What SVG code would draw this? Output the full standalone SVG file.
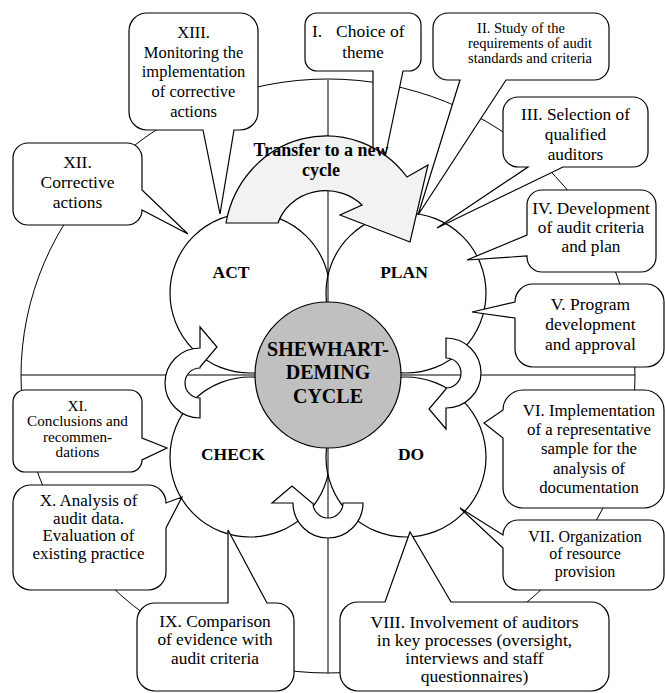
<svg xmlns="http://www.w3.org/2000/svg" width="665" height="693" viewBox="0 0 665 693">
<style>
.ln{fill:none;stroke:#000;stroke-width:1}
.bx{fill:#fff;stroke:#000;stroke-width:1.2}
.lobe{fill:#fff;stroke:#000;stroke-width:1.2}
.t{font-family:"Liberation Serif","Times New Roman",serif;text-anchor:middle;fill:#000}
.s{font-family:"Liberation Serif","Times New Roman",serif;text-anchor:start;fill:#000}
.b{font-weight:bold}
</style>
<rect width="665" height="693" fill="#fff"/>
<ellipse class="ln" cx="328" cy="376" rx="307" ry="297"/>
<g id="lobes">
<circle class="lobe" cx="250" cy="293" r="80"/>
<circle class="lobe" cx="406" cy="293" r="80"/>
<circle class="lobe" cx="250" cy="457" r="80"/>
<circle class="lobe" cx="406" cy="457" r="80"/>
</g>
<g id="connectors">
<line class="ln" x1="21" y1="375" x2="635" y2="375"/>
<line class="ln" x1="328" y1="80" x2="328" y2="673"/>
</g>
<g id="n1"><path class="bx" d="M317,13 H409 A12,12 0 0 1 421,25 V59 A12,12 0 0 1 409,71 H403 L373,215 L373,71 H317 A12,12 0 0 1 305,59 V25 A12,12 0 0 1 317,13 Z"/>
<text class="s" font-size="17.5"><tspan x="312" y="37">I.</tspan><tspan x="336" y="37">Choice of</tspan></text>
<text class="t" font-size="17"><tspan x="363" y="58">theme</tspan></text></g>
<g id="n2"><path class="bx" d="M448,13 H594 A15,15 0 0 1 609,28 V65 A15,15 0 0 1 594,80 H506 L418,215 L460,80 H448 A15,15 0 0 1 433,65 V28 A15,15 0 0 1 448,13 Z"/>
<text class="t" font-size="14.5"><tspan x="521" y="33">II. Study of the</tspan><tspan x="530" y="48">requirements of audit</tspan><tspan x="530" y="63">standards and criteria</tspan></text></g>
<g id="n3"><path class="bx" d="M518,97 H633 A15,15 0 0 1 648,112 V152 A15,15 0 0 1 633,167 H563 L437,228 L528,167 H518 A15,15 0 0 1 503,152 V112 A15,15 0 0 1 518,97 Z"/>
<text class="t" font-size="17.3"><tspan x="575.5" y="120">III. Selection of</tspan><tspan x="575.5" y="140">qualified</tspan><tspan x="575.5" y="160">auditors</tspan></text></g>
<g id="n4"><path class="bx" d="M542,190 H641 A15,15 0 0 1 656,205 V257 A15,15 0 0 1 641,272 H542 A15,15 0 0 1 527,257 V256 L467,260 L527,235 V205 A15,15 0 0 1 542,190 Z"/>
<text class="t" font-size="17.3"><tspan x="591" y="214">IV. Development</tspan><tspan x="591" y="233">of audit criteria</tspan><tspan x="591" y="252">and plan</tspan></text></g>
<g id="n5"><path class="bx" d="M533,284 H646 A18,18 0 0 1 664,302 V349 A18,18 0 0 1 646,367 H533 A18,18 0 0 1 515,349 V318 L472,312 L515,302 A18,18 0 0 1 533,284 Z"/>
<text class="t" font-size="17.5"><tspan x="590.5" y="310">V. Program</tspan><tspan x="590.5" y="330">development</tspan><tspan x="590.5" y="350">and approval</tspan></text></g>
<g id="n6"><path class="bx" d="M523,390 H644 A20,20 0 0 1 664,410 V488 A20,20 0 0 1 644,508 H523 A20,20 0 0 1 503,488 V438 L484,423 L503,410 A20,20 0 0 1 523,390 Z"/>
<text class="t" font-size="16.8"><tspan x="589" y="416">VI. Implementation</tspan><tspan x="589" y="435">of a representative</tspan><tspan x="589" y="454">sample for the</tspan><tspan x="589" y="474">analysis of</tspan><tspan x="589" y="493">documentation</tspan></text></g>
<g id="n7"><path class="bx" d="M518,520 H649 A15,15 0 0 1 664,535 V575 A15,15 0 0 1 649,590 H518 A15,15 0 0 1 503,575 V548 L460,508 L503,535 A15,15 0 0 1 518,520 Z"/>
<text class="t" font-size="16"><tspan x="585" y="541.5">VII. Organization</tspan><tspan x="585" y="559">of resource</tspan><tspan x="585" y="576.5">provision</tspan></text></g>
<g id="n8"><path class="bx" d="M358,602 H385 L410,532 L451,602 H591 A18,18 0 0 1 609,620 V673 A18,18 0 0 1 591,691 H358 A18,18 0 0 1 340,673 V620 A18,18 0 0 1 358,602 Z"/>
<text class="t" font-size="17.6"><tspan x="474.5" y="628">VIII. Involvement of auditors</tspan><tspan x="474.5" y="646">in key processes (oversight,</tspan><tspan x="474.5" y="664">interviews and staff</tspan><tspan x="474.5" y="682">questionnaires)</tspan></text></g>
<g id="n9"><path class="bx" d="M155,603 H228 V530 L267,603 H276 A18,18 0 0 1 294,621 V673 A18,18 0 0 1 276,691 H155 A18,18 0 0 1 137,673 V621 A18,18 0 0 1 155,603 Z"/>
<text class="t" font-size="17.3"><tspan x="215" y="626.5">IX. Comparison</tspan><tspan x="215" y="645">of evidence with</tspan><tspan x="215" y="663.5">audit criteria</tspan></text></g>
<g id="n10"><path class="bx" d="M31,485 H148 A18,18 0 0 1 166,503 L182,497 L166,528 V572 A18,18 0 0 1 148,590 H31 A18,18 0 0 1 13,572 V503 A18,18 0 0 1 31,485 Z"/>
<text class="t" font-size="17"><tspan x="88.5" y="506">X. Analysis of</tspan><tspan x="88.5" y="523.5">audit data.</tspan><tspan x="88.5" y="541">Evaluation of</tspan><tspan x="88.5" y="558.5">existing practice</tspan></text></g>
<g id="n11"><path class="bx" d="M25,390 H130 A12,12 0 0 1 142,402 V438 L167,448 L142,460 A12,12 0 0 1 130,472 H25 A12,12 0 0 1 13,460 V402 A12,12 0 0 1 25,390 Z"/>
<text class="t" font-size="15.2"><tspan x="77.5" y="411">XI.</tspan><tspan x="77.5" y="426.3">Conclusions and</tspan><tspan x="77.5" y="441.6">recommen-</tspan><tspan x="77.5" y="457">dations</tspan></text></g>
<g id="n12"><path class="bx" d="M28,143 H127 A15,15 0 0 1 142,158 V190 L188,234 L142,210 A15,15 0 0 1 127,225 H28 A15,15 0 0 1 13,210 V158 A15,15 0 0 1 28,143 Z"/>
<text class="t" font-size="17.5"><tspan x="77.5" y="168">XII.</tspan><tspan x="77.5" y="188">Corrective</tspan><tspan x="77.5" y="208">actions</tspan></text></g>
<g id="n13"><path class="bx" d="M147,13 H240 A18,18 0 0 1 258,31 V112 A18,18 0 0 1 240,130 H234 L220,214 L203,130 H147 A18,18 0 0 1 129,112 V31 A18,18 0 0 1 147,13 Z"/>
<text class="t" font-size="16.5"><tspan x="193.5" y="38">XIII.</tspan><tspan x="193.5" y="57.5">Monitoring the</tspan><tspan x="193.5" y="77">implementation</tspan><tspan x="193.5" y="97">of corrective</tspan><tspan x="193.5" y="116.5">actions</tspan></text></g>
<g id="transfer"><path d="M226,223 A102,106 0 0 1 407,177 L428,165 L410,242 L340,215 L362,205 A50,46 0 0 0 278,223 Z" fill="#f2f2f2" stroke="#000" stroke-width="1.2"/>
<text class="t b" font-size="18"><tspan x="321" y="156">Transfer to a new</tspan><tspan x="321" y="176">cycle</tspan></text></g>
<g id="arrows">
<path class="bx" d="M200,418 A35,35 0 0 1 200,348 L200,327 L217,347 L200,367 L200,368 A15,15 0 0 0 200,398 Z"/>
<path class="bx" d="M446,338 A35,35 0 0 1 446,408 L446,429 L429,409 L446,389 L446,388 A15,15 0 0 0 446,358 Z"/>
<path class="bx" d="M363,503 A35,35 0 0 1 293,503 L272,503 L292,486 L312,503 L313,503 A15,15 0 0 0 343,503 Z"/>
</g>
<g id="center"><circle cx="328" cy="375" r="73" fill="#c0c0c0" stroke="#000" stroke-width="1.2"/>
<text class="t b" font-size="20"><tspan x="328" y="356">SHEWHART-</tspan><tspan x="328" y="378.5">DEMING</tspan><tspan x="328" y="402.5">CYCLE</tspan></text></g>
<g id="labels">
<text class="t b" font-size="17.5" x="231" y="278">ACT</text>
<text class="t b" font-size="17.5" x="404" y="278">PLAN</text>
<text class="t b" font-size="17.5" x="233" y="460">CHECK</text>
<text class="t b" font-size="17.5" x="411" y="460">DO</text>
</g>
</svg>
